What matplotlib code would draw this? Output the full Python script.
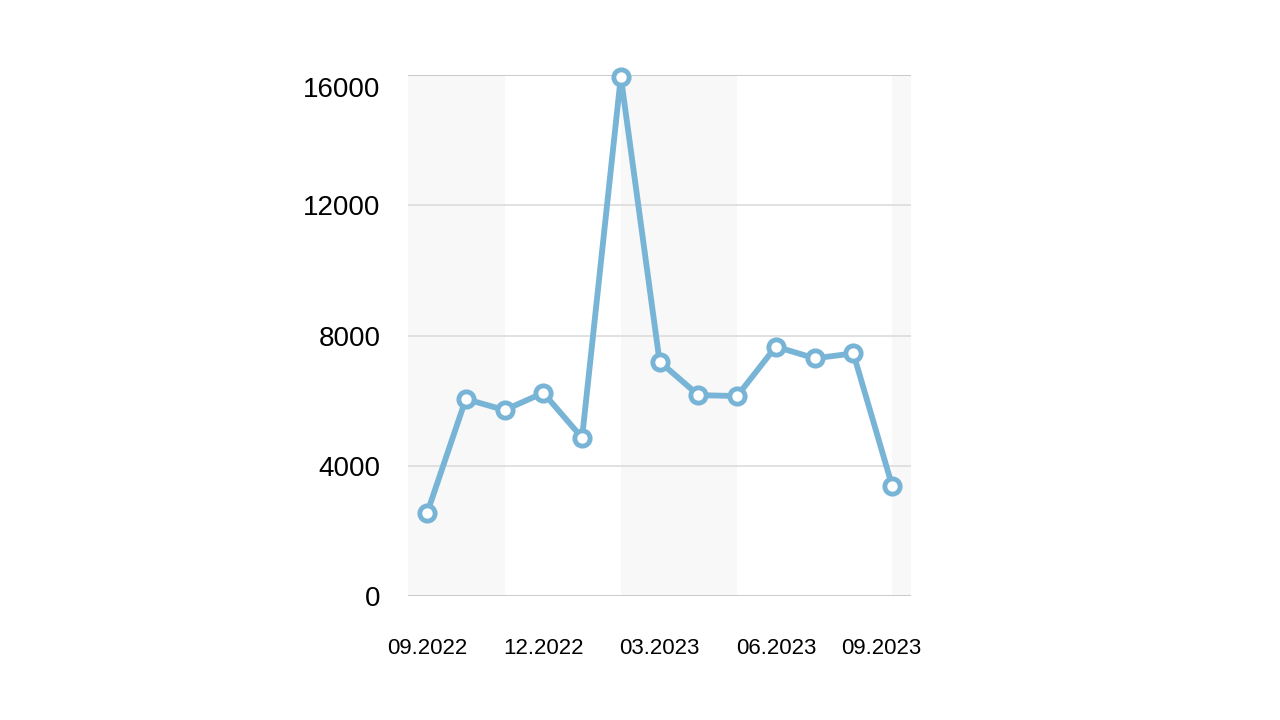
import matplotlib.pyplot as plt
import matplotlib.transforms as mtransforms

months = ["09.2022", "10.2022", "11.2022", "12.2022", "01.2023", "02.2023", "03.2023",
          "04.2023", "05.2023", "06.2023", "07.2023", "08.2023", "09.2023"]
values = [2540, 6050, 5710, 6240, 4860, 15950, 7200, 6170, 6140, 7660, 7300, 7450, 3390]

# shaded background bands, as (start, end) in month index units
bands = [(-0.49, 2.0), (5.0, 8.0), (12.0, 12.49)]

tick_idx = [0, 3, 6, 9, 12]
y_ticks = [0, 4000, 8000, 12000, 16000]

plt.rcParams['font.family'] = ['Liberation Sans', 'DejaVu Sans']

fig = plt.figure(figsize=(12.8, 7.2), dpi=100)
ax = fig.add_axes([0.3188, 0.1722, 0.393, 0.7236])

x = list(range(len(values)))
ax.set_xlim(-0.49, 12.49)
ax.set_ylim(0, 16000)

for a, b in bands:
    ax.axvspan(a, b, color='#f8f8f8', lw=0, zorder=0)

for yt in y_ticks:
    c = '#bdbdbd' if yt in (0, 16000) else '#d9d9d9'
    ax.axhline(yt, color=c, lw=1.1, zorder=1)

color = '#78b4d6'
ax.plot(x, values, color=color, lw=4.2, marker='o', ms=11, mfc='white',
        mec=color, mew=3.5, zorder=3, clip_on=False)

for s in ax.spines.values():
    s.set_visible(False)

ax.set_xticks(tick_idx)
ax.set_xticklabels([months[i] for i in tick_idx], fontsize=16)
ax.set_yticks(y_ticks)
ax.set_yticklabels([str(v) for v in y_ticks], fontsize=20)
ax.tick_params(axis='x', length=0, pad=30)
ax.tick_params(axis='y', length=0, pad=20)

# keep edge labels inside the plot frame, like the original
xlabels = ax.get_xticklabels()
xlabels[-1].set_transform(xlabels[-1].get_transform() +
                          mtransforms.ScaledTranslation(-10.5 / 100, 0, fig.dpi_scale_trans))
ylabels = ax.get_yticklabels()
ylabels[-1].set_transform(ylabels[-1].get_transform() +
                          mtransforms.ScaledTranslation(0, -12 / 100, fig.dpi_scale_trans))

fig.savefig("out.png", dpi=100)
